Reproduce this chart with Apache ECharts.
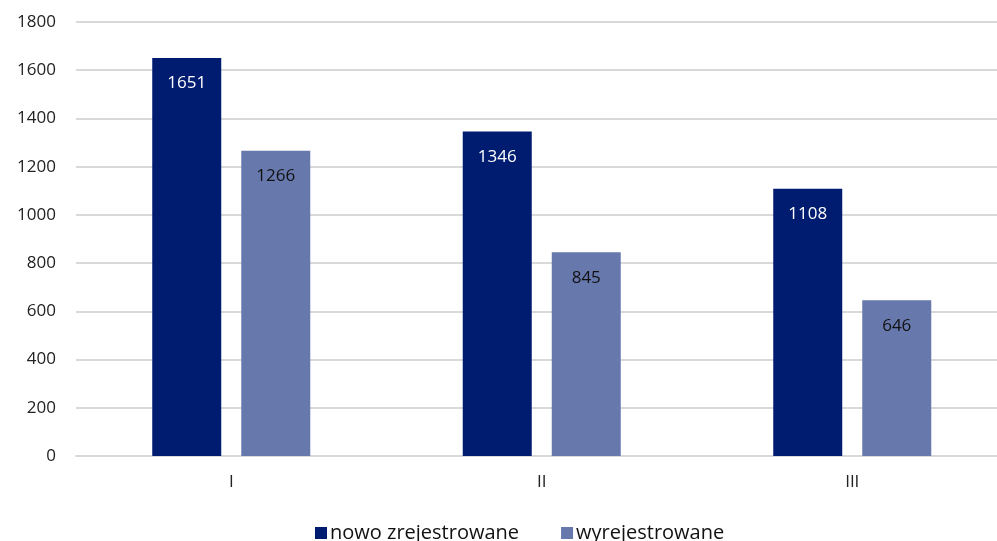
<!DOCTYPE html>
<html><head><meta charset="utf-8">
<script src="https://cdn.jsdelivr.net/npm/echarts@6/dist/echarts.min.js"></script>
<style>html,body{margin:0;padding:0;background:#fff}#c{width:997px;height:541px}</style>
</head><body><div id="c"></div>
<script>
const categories = ['I', 'II', 'III'];
const nowoZarejestrowane = [1651, 1346, 1108];
const wyrejestrowane = [1266, 845, 646];
const seriesNames = ['nowo zrejestrowane', 'wyrejestrowane'];

const chart = echarts.init(document.getElementById('c'));
const font = 'Open Sans';
chart.setOption({
  animation: false,
  grid: { left: 76, right: -10.5, top: 22, bottom: 85, containLabel: false, outerBoundsMode: 'none' },
  legend: {
    bottom: -7, left: 310, itemWidth: 12, itemHeight: 12, itemGap: 42, itemSpacing: 4,
    icon: 'rect',
    textStyle: { fontFamily: font, fontSize: 20, color: '#111', padding: [0, 0, 0, -2] },
    data: seriesNames
  },
  xAxis: {
    type: 'category', data: categories,
    axisLine: { lineStyle: { color: '#d9d9d9', width: 2 } },
    axisTick: { show: false },
    axisLabel: { fontFamily: font, fontSize: 17, color: '#222', margin: 18 }
  },
  yAxis: {
    type: 'value', min: 0, max: 1800, interval: 200,
    axisLine: { show: false }, axisTick: { show: false },
    splitLine: { lineStyle: { color: '#d9d9d9', width: 2 } },
    axisLabel: { fontFamily: font, fontSize: 17, color: '#222', margin: 20, formatter: v => String(v) }
  },
  series: [
    { name: seriesNames[0], type: 'bar', data: nowoZarejestrowane, barWidth: 69, barGap: '29%',
      itemStyle: { color: '#001c71' },
      label: { show: true, position: 'insideTop', distance: 17, color: '#fff', fontFamily: font, fontSize: 17 } },
    { name: seriesNames[1], type: 'bar', data: wyrejestrowane, barWidth: 69,
      itemStyle: { color: '#6778ad' },
      label: { show: true, position: 'insideTop', distance: 17, color: '#111', fontFamily: font, fontSize: 17 } }
  ]
});
</script></body></html>
